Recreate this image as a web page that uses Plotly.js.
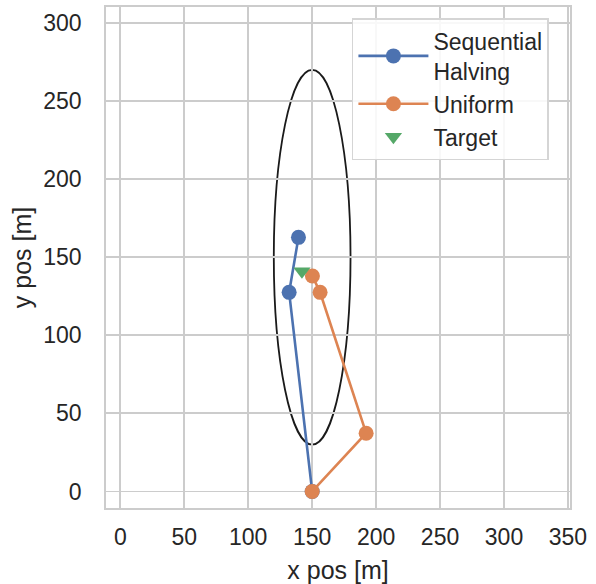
<!DOCTYPE html>
<html>
<head>
<meta charset="utf-8">
<script src="https://cdn.plot.ly/plotly-3.0.1.min.js"></script>
<style>
  html, body { margin: 0; padding: 0; background: #ffffff; }
  #chart { width: 596px; height: 584px; }
</style>
</head>
<body>
<div id="chart"></div>
<script>
// Estimated positions of each search strategy, in metres
const seqHalvingX = [150, 132, 139.3];
const seqHalvingY = [0, 127.5, 162.7];
const uniformX = [150, 192.2, 156.2, 150.2];
const uniformY = [0, 37.3, 127.5, 138];
const targetX = [142];
const targetY = [141];

// Uncertainty ellipse: centre and semi-axes
const ellipseCenter = [150, 150];
const ellipseRadii = [30, 120];

const xTicks = [0, 50, 100, 150, 200, 250, 300, 350];
const yTicks = [0, 50, 100, 150, 200, 250, 300];

const FONT = 'Liberation Sans, Arial, sans-serif';
const GRID = '#cccccc';
const INK = '#262626';

const traces = [
  {
    x: seqHalvingX, y: seqHalvingY, name: 'Sequential<br>Halving',
    type: 'scatter', mode: 'lines+markers',
    line: { color: '#4c72b0', width: 2.6 },
    marker: { color: '#4c72b0', size: 15 }
  },
  {
    x: uniformX, y: uniformY, name: 'Uniform',
    type: 'scatter', mode: 'lines+markers',
    line: { color: '#dd8452', width: 2.6 },
    marker: { color: '#dd8452', size: 15 }
  },
  {
    x: targetX, y: targetY, name: 'Target',
    type: 'scatter', mode: 'markers',
    marker: { color: '#55a868', size: 15, symbol: 'triangle-down' }
  }
];

const layout = {
  width: 596, height: 584,
  margin: { l: 106, r: 26, t: 7, b: 76 },
  paper_bgcolor: '#ffffff', plot_bgcolor: '#ffffff',
  font: { family: FONT, size: 23, color: INK },
  showlegend: true,
  legend: {
    x: 0.53, y: 0.978, xanchor: 'left', yanchor: 'top',
    bgcolor: 'rgba(255,255,255,0.85)', bordercolor: '#d5d5d5', borderwidth: 1.5,
    font: { family: FONT, size: 23, color: INK },
    tracegroupgap: 0, itemwidth: 70
  },
  xaxis: {
    range: [-11.2, 351.6],
    tickvals: xTicks, ticks: '', ticklabelstandoff: 8,
    showgrid: true, gridcolor: GRID, gridwidth: 1.8,
    zeroline: false,
    showline: true, linecolor: GRID, linewidth: 1.8, mirror: true,
    tickfont: { family: FONT, size: 23, color: INK },
    title: { text: 'x pos [m]', font: { family: FONT, size: 25, color: INK }, standoff: 12 }
  },
  yaxis: {
    range: [-10.6, 310.2],
    tickvals: yTicks, ticks: '', ticklabelstandoff: 18,
    showgrid: true, gridcolor: GRID, gridwidth: 1.8,
    zeroline: false,
    showline: true, linecolor: GRID, linewidth: 1.8, mirror: true,
    tickfont: { family: FONT, size: 23, color: INK },
    title: { text: 'y pos [m]', font: { family: FONT, size: 25, color: INK }, standoff: 4 }
  },
  shapes: [
    {
      type: 'circle', xref: 'x', yref: 'y', layer: 'below',
      x0: ellipseCenter[0] - ellipseRadii[0], x1: ellipseCenter[0] + ellipseRadii[0],
      y0: ellipseCenter[1] - ellipseRadii[1], y1: ellipseCenter[1] + ellipseRadii[1],
      line: { color: '#1a1a1a', width: 1.8 }
    }
  ]
};

Plotly.newPlot('chart', traces, layout, { staticPlot: true, displayModeBar: false });
</script>
</body>
</html>
